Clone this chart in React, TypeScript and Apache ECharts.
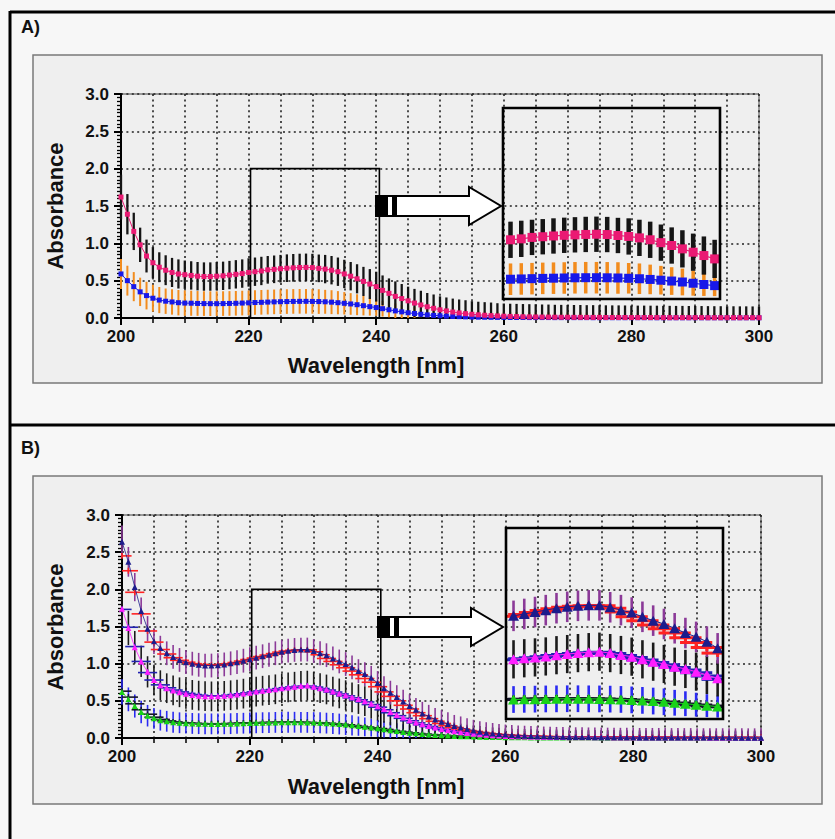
import React, { useEffect, useRef } from "react";
import * as echarts from "echarts";

// ---------- data ----------
const WAVELENGTHS = [
  200, 201, 202, 203, 204, 205, 206, 207, 208, 209,
  210, 211, 212, 213, 214, 215, 216, 217, 218, 219,
  220, 221, 222, 223, 224, 225, 226, 227, 228, 229,
  230, 231, 232, 233, 234, 235, 236, 237, 238, 239,
  240, 241, 242, 243, 244, 245, 246, 247, 248, 249,
  250, 251, 252, 253, 254, 255, 256, 257, 258, 259,
  260, 261, 262, 263, 264, 265, 266, 267, 268, 269,
  270, 271, 272, 273, 274, 275, 276, 277, 278, 279,
  280, 281, 282, 283, 284, 285, 286, 287, 288, 289,
  290, 291, 292, 293, 294, 295, 296, 297, 298, 299, 300,
];

// Panel A – pink squares (black error bars)
const A_PINK = [
  1.62, 1.39, 1.16, 0.98, 0.83, 0.74, 0.68, 0.64, 0.61, 0.59,
  0.58, 0.57, 0.56, 0.555, 0.555, 0.56, 0.565, 0.575, 0.585, 0.595,
  0.61, 0.62, 0.63, 0.645, 0.652, 0.66, 0.667, 0.672, 0.676, 0.678,
  0.675, 0.665, 0.655, 0.64, 0.62, 0.59, 0.56, 0.525, 0.49, 0.455,
  0.42, 0.37, 0.33, 0.29, 0.26, 0.23, 0.2, 0.175, 0.15, 0.13,
  0.11, 0.095, 0.08, 0.068, 0.058, 0.05, 0.043, 0.037, 0.032, 0.028,
  0.024, 0.021, 0.019, 0.017, 0.015, 0.014, 0.013, 0.012, 0.011, 0.01,
  0.01, 0.009, 0.009, 0.008, 0.008, 0.008, 0.007, 0.007, 0.007, 0.007,
  0.006, 0.006, 0.006, 0.006, 0.006, 0.005, 0.005, 0.005, 0.005, 0.005,
  0.005, 0.005, 0.004, 0.004, 0.004, 0.004, 0.004, 0.004, 0.004, 0.004, 0.004,
];
const A_PINK_ERR = [
  0.3, 0.27, 0.25, 0.23, 0.22, 0.21, 0.2, 0.2, 0.195, 0.195,
  0.19, 0.19, 0.19, 0.19, 0.19, 0.19, 0.19, 0.19, 0.19, 0.19,
  0.19, 0.19, 0.19, 0.185, 0.185, 0.185, 0.185, 0.185, 0.185, 0.185,
  0.185, 0.185, 0.19, 0.19, 0.19, 0.19, 0.19, 0.195, 0.195, 0.2,
  0.2, 0.2, 0.2, 0.2, 0.195, 0.19, 0.19, 0.19, 0.185, 0.185,
  0.18, 0.18, 0.18, 0.18, 0.18, 0.175, 0.175, 0.175, 0.175, 0.17,
  0.17, 0.17, 0.17, 0.17, 0.17, 0.17, 0.168, 0.168, 0.166, 0.166,
  0.165, 0.165, 0.165, 0.164, 0.164, 0.163, 0.163, 0.162, 0.162, 0.161,
  0.16, 0.16, 0.16, 0.159, 0.159, 0.158, 0.158, 0.157, 0.157, 0.156,
  0.156, 0.155, 0.155, 0.154, 0.154, 0.153, 0.153, 0.152, 0.152, 0.151, 0.15,
];
// Panel A – blue squares (orange error bars)
const A_BLUE = [
  0.59, 0.5, 0.42, 0.35, 0.3, 0.265, 0.24, 0.225, 0.215, 0.205,
  0.2, 0.198, 0.195, 0.193, 0.192, 0.192, 0.193, 0.195, 0.197, 0.2,
  0.203, 0.207, 0.21, 0.213, 0.216, 0.218, 0.22, 0.222, 0.223, 0.223,
  0.222, 0.22, 0.217, 0.212, 0.205, 0.197, 0.188, 0.178, 0.165, 0.152,
  0.14, 0.125, 0.11, 0.095, 0.082, 0.07, 0.06, 0.05, 0.042, 0.035,
  0.03, 0.025, 0.021, 0.018, 0.015, 0.013, 0.011, 0.01, 0.009, 0.008,
  0.008, 0.007, 0.007, 0.007, 0.006, 0.006, 0.006, 0.006, 0.005, 0.005,
  0.005, 0.005, 0.005, 0.005, 0.004, 0.004, 0.004, 0.004, 0.004, 0.004,
  0.004, 0.004, 0.004, 0.004, 0.003, 0.003, 0.003, 0.003, 0.003, 0.003,
  0.003, 0.003, 0.003, 0.003, 0.003, 0.003, 0.003, 0.003, 0.003, 0.003, 0.003,
];
const A_BLUE_ERR = [
  0.2, 0.2, 0.195, 0.19, 0.185, 0.18, 0.175, 0.17, 0.17, 0.17,
  0.17, 0.168, 0.166, 0.165, 0.165, 0.165, 0.165, 0.165, 0.165, 0.165,
  0.165, 0.165, 0.165, 0.165, 0.165, 0.165, 0.165, 0.165, 0.165, 0.165,
  0.165, 0.165, 0.16, 0.16, 0.155, 0.15, 0.145, 0.14, 0.13, 0.12,
  0.11, 0.105, 0.1, 0.1, 0.095, 0.095, 0.09, 0.09, 0.09, 0.085,
  0.085, 0.085, 0.08, 0.08, 0.08, 0.08, 0.078, 0.078, 0.076, 0.076,
  0.075, 0.075, 0.074, 0.074, 0.073, 0.073, 0.072, 0.072, 0.071, 0.071,
  0.07, 0.07, 0.07, 0.069, 0.069, 0.068, 0.068, 0.067, 0.067, 0.066,
  0.066, 0.066, 0.065, 0.065, 0.064, 0.064, 0.064, 0.063, 0.063, 0.062,
  0.062, 0.062, 0.061, 0.061, 0.061, 0.06, 0.06, 0.06, 0.06, 0.06, 0.06,
];

// Panel B – navy triangles (purple error bars)
const B_NAVY = [
  2.64, 2.37, 2.03, 1.71, 1.47, 1.3, 1.21, 1.14, 1.09, 1.05,
  1.02, 1.0, 0.985, 0.975, 0.975, 0.98, 0.99, 1.005, 1.02, 1.04,
  1.06, 1.08, 1.1, 1.12, 1.14, 1.16, 1.175, 1.185, 1.19, 1.19,
  1.17, 1.14, 1.114, 1.07, 1.03, 0.995, 0.95, 0.9, 0.86, 0.81,
  0.74, 0.67, 0.61, 0.55, 0.49, 0.43, 0.38, 0.33, 0.29, 0.25,
  0.22, 0.19, 0.16, 0.14, 0.12, 0.1, 0.085, 0.072, 0.062, 0.053,
  0.046, 0.04, 0.035, 0.031, 0.028, 0.025, 0.022, 0.02, 0.018, 0.016,
  0.015, 0.014, 0.013, 0.012, 0.011, 0.011, 0.01, 0.01, 0.009, 0.009,
  0.009, 0.008, 0.008, 0.008, 0.008, 0.007, 0.007, 0.007, 0.007, 0.007,
  0.006, 0.006, 0.006, 0.006, 0.006, 0.006, 0.005, 0.005, 0.005, 0.005, 0.005,
];
const B_NAVY_ERR = [
  0.22, 0.2, 0.19, 0.18, 0.17, 0.17, 0.165, 0.16, 0.16, 0.16,
  0.16, 0.16, 0.16, 0.16, 0.16, 0.16, 0.16, 0.16, 0.16, 0.16,
  0.16, 0.16, 0.16, 0.16, 0.16, 0.16, 0.16, 0.16, 0.16, 0.16,
  0.16, 0.16, 0.16, 0.16, 0.16, 0.16, 0.16, 0.16, 0.16, 0.16,
  0.16, 0.16, 0.16, 0.16, 0.16, 0.158, 0.158, 0.156, 0.156, 0.155,
  0.155, 0.155, 0.15, 0.15, 0.145, 0.145, 0.14, 0.14, 0.14, 0.135,
  0.135, 0.135, 0.134, 0.134, 0.133, 0.133, 0.132, 0.132, 0.131, 0.131,
  0.13, 0.13, 0.13, 0.13, 0.129, 0.129, 0.129, 0.128, 0.128, 0.128,
  0.128, 0.127, 0.127, 0.127, 0.127, 0.126, 0.126, 0.126, 0.126, 0.126,
  0.125, 0.125, 0.125, 0.125, 0.125, 0.125, 0.125, 0.125, 0.125, 0.125, 0.125,
];
// Panel B – magenta triangles (black error bars)
const B_MAGENTA = [
  1.74, 1.48, 1.22, 1.03, 0.89, 0.78, 0.71, 0.67, 0.64, 0.615,
  0.595, 0.58, 0.57, 0.563, 0.56, 0.562, 0.567, 0.575, 0.585, 0.597,
  0.61, 0.625, 0.636, 0.645, 0.655, 0.668, 0.68, 0.69, 0.7, 0.705,
  0.69, 0.67, 0.653, 0.625, 0.6, 0.576, 0.548, 0.524, 0.496, 0.461,
  0.426, 0.39, 0.35, 0.31, 0.275, 0.24, 0.21, 0.185, 0.16, 0.14,
  0.12, 0.105, 0.09, 0.078, 0.067, 0.058, 0.05, 0.043, 0.037, 0.032,
  0.028, 0.025, 0.022, 0.02, 0.018, 0.016, 0.015, 0.014, 0.013, 0.012,
  0.011, 0.011, 0.01, 0.01, 0.009, 0.009, 0.009, 0.008, 0.008, 0.008,
  0.008, 0.007, 0.007, 0.007, 0.007, 0.007, 0.006, 0.006, 0.006, 0.006,
  0.006, 0.006, 0.005, 0.005, 0.005, 0.005, 0.005, 0.005, 0.005, 0.005, 0.005,
];
const B_MAGENTA_ERR = [
  0.25, 0.23, 0.22, 0.21, 0.21, 0.205, 0.2, 0.2, 0.2, 0.2,
  0.2, 0.2, 0.2, 0.2, 0.2, 0.2, 0.2, 0.2, 0.2, 0.2,
  0.2, 0.2, 0.2, 0.2, 0.2, 0.2, 0.2, 0.2, 0.2, 0.2,
  0.2, 0.2, 0.2, 0.2, 0.2, 0.2, 0.2, 0.2, 0.2, 0.2,
  0.19, 0.185, 0.18, 0.175, 0.17, 0.16, 0.155, 0.15, 0.14, 0.135,
  0.13, 0.125, 0.12, 0.115, 0.11, 0.11, 0.11, 0.105, 0.105, 0.105,
  0.1, 0.1, 0.1, 0.1, 0.1, 0.1, 0.1, 0.1, 0.1, 0.1,
  0.1, 0.1, 0.099, 0.099, 0.099, 0.098, 0.098, 0.098, 0.098, 0.097,
  0.097, 0.097, 0.097, 0.096, 0.096, 0.096, 0.096, 0.096, 0.095, 0.095,
  0.095, 0.095, 0.095, 0.095, 0.095, 0.095, 0.095, 0.095, 0.095, 0.095, 0.095,
];
// Panel B – green triangles (blue error bars)
const B_GREEN = [
  0.62, 0.52, 0.43, 0.35, 0.3, 0.265, 0.24, 0.225, 0.212, 0.205,
  0.2, 0.196, 0.193, 0.191, 0.19, 0.19, 0.191, 0.193, 0.196, 0.199,
  0.202, 0.204, 0.206, 0.208, 0.21, 0.211, 0.212, 0.212, 0.211, 0.21,
  0.208, 0.205, 0.2, 0.195, 0.188, 0.18, 0.17, 0.16, 0.15, 0.14,
  0.13, 0.118, 0.105, 0.093, 0.082, 0.072, 0.063, 0.055, 0.048, 0.042,
  0.037, 0.032, 0.028, 0.025, 0.022, 0.019, 0.017, 0.015, 0.013, 0.012,
  0.011, 0.01, 0.009, 0.009, 0.008, 0.008, 0.007, 0.007, 0.007, 0.006,
  0.006, 0.006, 0.006, 0.006, 0.006, 0.005, 0.005, 0.005, 0.005, 0.005,
  0.005, 0.005, 0.005, 0.005, 0.005, 0.004, 0.004, 0.004, 0.004, 0.004,
  0.004, 0.004, 0.004, 0.004, 0.004, 0.004, 0.004, 0.004, 0.004, 0.004, 0.004,
];
const B_GREEN_ERR = [
  0.17, 0.16, 0.155, 0.15, 0.145, 0.14, 0.14, 0.14, 0.14, 0.14,
  0.14, 0.14, 0.14, 0.14, 0.14, 0.14, 0.14, 0.14, 0.14, 0.14,
  0.14, 0.14, 0.14, 0.14, 0.14, 0.14, 0.14, 0.14, 0.14, 0.14,
  0.14, 0.14, 0.14, 0.14, 0.14, 0.14, 0.135, 0.13, 0.125, 0.12,
  0.115, 0.11, 0.108, 0.105, 0.102, 0.1, 0.098, 0.096, 0.094, 0.092,
  0.09, 0.09, 0.09, 0.089, 0.089, 0.088, 0.088, 0.088, 0.087, 0.087,
  0.087, 0.086, 0.086, 0.086, 0.085, 0.085, 0.085, 0.085, 0.084, 0.084,
  0.084, 0.084, 0.083, 0.083, 0.083, 0.083, 0.082, 0.082, 0.082, 0.082,
  0.082, 0.081, 0.081, 0.081, 0.081, 0.081, 0.08, 0.08, 0.08, 0.08,
  0.08, 0.08, 0.08, 0.08, 0.08, 0.08, 0.08, 0.08, 0.08, 0.08, 0.08,
];
// Panel B – cross markers with horizontal error bars
const B_RED_CROSS = [
  2.45, 2.25, 1.96, 1.67, 1.44, 1.29, 1.19, 1.13, 1.08, 1.045,
  1.02, 1.0, 0.99, 0.98, 0.977, 0.98, 0.99, 1.0, 1.015, 1.035,
  1.055, 1.075, 1.095, 1.115, 1.135, 1.155, 1.17, 1.18, 1.185, 1.185,
  1.16, 1.12, 1.07, 1.03, 0.985, 0.945, 0.9, 0.85, 0.8, 0.75,
  0.69, 0.62, 0.56, 0.5, 0.44, 0.39, 0.34, 0.3, 0.26, 0.225,
  0.195, 0.165, 0.14, 0.12, 0.1, 0.088, 0.075, 0.064, 0.055, 0.047,
  0.041, 0.036, 0.032, 0.029, 0.026, 0.023, 0.021, 0.019, 0.017, 0.016,
  0.015, 0.014, 0.013, 0.012, 0.011, 0.011, 0.01, 0.01, 0.009, 0.009,
  0.009, 0.008, 0.008, 0.008, 0.008, 0.007, 0.007, 0.007, 0.007, 0.007,
  0.006, 0.006, 0.006, 0.006, 0.006, 0.006, 0.006, 0.006, 0.006, 0.006, 0.006,
];
const B_BLUE_CROSS = [
  1.73, 1.49, 1.23, 1.03, 0.88, 0.78, 0.715, 0.675, 0.645, 0.62,
  0.6, 0.585, 0.575, 0.567, 0.563, 0.564, 0.568, 0.575, 0.584, 0.595,
  0.607, 0.62, 0.632, 0.642, 0.652, 0.664, 0.676, 0.686, 0.695, 0.698,
  0.685, 0.665, 0.645, 0.618, 0.592, 0.567, 0.54, 0.514, 0.485, 0.45,
  0.415, 0.38, 0.34, 0.3, 0.265, 0.232, 0.203, 0.178, 0.155, 0.135,
  0.117, 0.1, 0.087, 0.075, 0.064, 0.055, 0.048, 0.041, 0.036, 0.031,
  0.027, 0.024, 0.021, 0.019, 0.017, 0.016, 0.014, 0.013, 0.012, 0.011,
  0.011, 0.01, 0.01, 0.009, 0.009, 0.009, 0.008, 0.008, 0.008, 0.008,
  0.007, 0.007, 0.007, 0.007, 0.007, 0.006, 0.006, 0.006, 0.006, 0.006,
  0.006, 0.005, 0.005, 0.005, 0.005, 0.005, 0.005, 0.005, 0.005, 0.005, 0.005,
];
const B_BLACK_CROSS = [
  0.63, 0.55, 0.46, 0.38, 0.32, 0.28, 0.25, 0.23, 0.216, 0.207,
  0.201, 0.197, 0.194, 0.192, 0.191, 0.191, 0.192, 0.194, 0.197, 0.2,
  0.203, 0.205, 0.207, 0.209, 0.21, 0.211, 0.212, 0.212, 0.211, 0.209,
  0.206, 0.203, 0.198, 0.192, 0.185, 0.177, 0.167, 0.157, 0.147, 0.137,
  0.127, 0.115, 0.102, 0.09, 0.079, 0.069, 0.06, 0.052, 0.046, 0.04,
  0.035, 0.031, 0.027, 0.024, 0.021, 0.018, 0.016, 0.014, 0.013, 0.012,
  0.011, 0.01, 0.009, 0.008, 0.008, 0.007, 0.007, 0.007, 0.006, 0.006,
  0.006, 0.006, 0.005, 0.005, 0.005, 0.005, 0.005, 0.005, 0.005, 0.005,
  0.005, 0.004, 0.004, 0.004, 0.004, 0.004, 0.004, 0.004, 0.004, 0.004,
  0.004, 0.004, 0.004, 0.004, 0.004, 0.004, 0.004, 0.004, 0.004, 0.004, 0.004,
];
const CROSS_X_ERR = 1.5; // nm, half width of horizontal error bars
const CROSS_Y_ERR = 0.04;

// zoom window shown in the insets
const ZOOM_X = [220.3, 240.5];
const ZOOM_Y = [0, 2];
const X_TICKS_LABELS = [200, 220, 240, 260, 280, 300];

// ---------- helpers ----------
const FONT = "'Liberation Sans', Arial, sans-serif";

const pts = (vals: number[], errs?: number[]) =>
  WAVELENGTHS.map((w, i) => (errs ? [w, vals[i], errs[i]] : [w, vals[i]]));
const inZoom = (arr: any[]) => arr.filter((p) => p[0] >= 221 && p[0] <= 240);

function vErr(gi: number, data: any[], color: string, width: number, yMax: number) {
  return {
    type: "custom",
    xAxisIndex: gi,
    yAxisIndex: gi,
    data,
    z: 2,
    silent: true,
    encode: { x: 0, y: 1 },
    renderItem: (_p: any, api: any) => {
      const x = api.value(0);
      const v = api.value(1);
      const e = api.value(2);
      const lo = Math.max(0, v - e);
      const hi = Math.min(yMax, v + e);
      const a = api.coord([x, lo]);
      const b = api.coord([x, hi]);
      return {
        type: "line",
        shape: { x1: a[0], y1: a[1], x2: b[0], y2: b[1] },
        style: { stroke: color, lineWidth: width },
      };
    },
  };
}

function hCross(gi: number, data: any[], color: string, width: number, xMin: number, xMax: number, yMax: number) {
  return {
    type: "custom",
    xAxisIndex: gi,
    yAxisIndex: gi,
    data,
    z: 3,
    silent: true,
    encode: { x: 0, y: 1 },
    renderItem: (_p: any, api: any) => {
      const x = api.value(0);
      const v = api.value(1);
      const l = api.coord([Math.max(xMin, x - CROSS_X_ERR), v]);
      const r = api.coord([Math.min(xMax, x + CROSS_X_ERR), v]);
      const t = api.coord([x, Math.min(yMax, v + CROSS_Y_ERR)]);
      const b = api.coord([x, Math.max(0, v - CROSS_Y_ERR)]);
      return {
        type: "group",
        children: [
          { type: "line", shape: { x1: l[0], y1: l[1], x2: r[0], y2: r[1] }, style: { stroke: color, lineWidth: width } },
          { type: "line", shape: { x1: t[0], y1: t[1], x2: b[0], y2: b[1] }, style: { stroke: color, lineWidth: width } },
        ],
      };
    },
  };
}

function markers(gi: number, data: any[], color: string, symbol: string, size: any, lineW: number, extra: any = {}) {
  return {
    type: "line",
    xAxisIndex: gi,
    yAxisIndex: gi,
    data,
    symbol,
    symbolSize: size,
    showAllSymbol: true,
    clip: true,
    silent: true,
    z: 4,
    itemStyle: { color, borderWidth: 0 },
    lineStyle: { color, width: lineW },
    ...extra,
  };
}

const dotted = { color: "#222", width: 1.6, type: [2, 3.4] };

function mainAxes(gi: number) {
  const x = {
    gridIndex: gi,
    type: "value",
    min: 200,
    max: 300,
    interval: 20,
    axisLine: { show: true, onZero: false, lineStyle: { color: "#000", width: 2 } },
    axisTick: { show: true, length: 7, lineStyle: { color: "#000", width: 2 } },
    minorTick: { show: true, splitNumber: 4, length: 5, lineStyle: { color: "#000", width: 1.5 } },
    splitLine: { show: true, lineStyle: dotted },
    minorSplitLine: { show: true, lineStyle: dotted },
    axisLabel: {
      fontSize: 17,
      fontWeight: "bold",
      color: "#111",
      fontFamily: FONT,
      margin: 10,
      formatter: (v: number) => (X_TICKS_LABELS.indexOf(v) >= 0 ? String(v) : ""),
    },
  };
  const y = {
    gridIndex: gi,
    type: "value",
    min: 0,
    max: 3,
    interval: 0.5,
    axisLine: { show: true, onZero: false, lineStyle: { color: "#000", width: 2 } },
    axisTick: { show: true, length: 7, lineStyle: { color: "#000", width: 2 } },
    minorTick: { show: true, splitNumber: 10, length: 4, lineStyle: { color: "#000", width: 1.3 } },
    splitLine: { show: true, lineStyle: dotted },
    axisLabel: {
      fontSize: 17,
      fontWeight: "bold",
      color: "#111",
      fontFamily: FONT,
      margin: 12,
      formatter: (v: number) => v.toFixed(1),
    },
  };
  return { x, y };
}

function insetAxes(gi: number) {
  return {
    x: { gridIndex: gi, type: "value", min: ZOOM_X[0], max: ZOOM_X[1], show: false, splitLine: { show: false } },
    y: { gridIndex: gi, type: "value", min: ZOOM_Y[0], max: ZOOM_Y[1], show: false, splitLine: { show: false } },
  };
}

function arrow(x0: number, cy: number, tip: number) {
  const headBase = tip - 32;
  return [
    {
      type: "polygon",
      z: 100,
      shape: {
        points: [
          [x0, cy - 10],
          [headBase, cy - 10],
          [headBase, cy - 19],
          [tip, cy],
          [headBase, cy + 19],
          [headBase, cy + 10],
          [x0, cy + 10],
        ],
      },
      style: { fill: "#fff", stroke: "#000", lineWidth: 2 },
    },
    { type: "rect", z: 101, shape: { x: x0, y: cy - 10, width: 12, height: 20 }, style: { fill: "#000" } },
    { type: "rect", z: 101, shape: { x: x0 + 16, y: cy - 10, width: 5, height: 20 }, style: { fill: "#000" } },
  ];
}

function panelGraphics(dy: number, label: string) {
  return [
    { type: "rect", z: -20, shape: { x: 33, y: 55 + dy, width: 789, height: 328 }, style: { fill: "#efefef", stroke: "#7a7a7a", lineWidth: 1.5 } },
    { type: "text", z: 100, x: 21, y: 18 + dy, style: { text: label, fontSize: 18, fontWeight: "bold", fontFamily: FONT, fill: "#111" } },
    {
      type: "text",
      z: 100,
      x: 55,
      y: 206 + dy,
      rotation: Math.PI / 2,
      style: { text: "Absorbance", fontSize: 22, fontWeight: "bold", fontFamily: FONT, fill: "#111", align: "center", verticalAlign: "middle" },
    },
    {
      type: "text",
      z: 100,
      x: 376,
      y: 365 + dy,
      style: { text: "Wavelength [nm]", fontSize: 22, fontWeight: "bold", fontFamily: FONT, fill: "#111", align: "center", verticalAlign: "middle" },
    },
  ];
}

export default function App() {
  const ref = useRef<HTMLDivElement>(null);

  useEffect(() => {
    if (!ref.current) return;
    const chart = echarts.init(ref.current, undefined, { renderer: "svg" });

    const aM = mainAxes(0);
    const aI = insetAxes(1);
    const bM = mainAxes(2);
    const bI = insetAxes(3);

    const zoomRect = {
      silent: true,
      itemStyle: { color: "rgba(0,0,0,0)", borderColor: "#000", borderWidth: 1.6 },
      data: [[{ coord: [ZOOM_X[0], ZOOM_Y[0]] }, { coord: [ZOOM_X[1], ZOOM_Y[1]] }]],
    };

    const series: any[] = [
      // ---- Panel A main ----
      vErr(0, pts(A_BLUE, A_BLUE_ERR), "#f28c1e", 2, 3),
      vErr(0, pts(A_PINK, A_PINK_ERR), "#151515", 2.3, 3),
      markers(0, pts(A_BLUE), "#1818e8", "rect", 5, 1),
      markers(0, pts(A_PINK), "#ea1a73", "rect", 5, 1, { markArea: zoomRect }),
      // ---- Panel A inset ----
      vErr(1, inZoom(pts(A_BLUE, A_BLUE_ERR)), "#f28c1e", 3.5, 2),
      vErr(1, inZoom(pts(A_PINK, A_PINK_ERR)), "#151515", 4.5, 2),
      markers(1, inZoom(pts(A_BLUE)), "#1818e8", "rect", 9, 1.2),
      markers(1, inZoom(pts(A_PINK)), "#ea1a73", "rect", 9, 1.2),
      // ---- Panel B main ----
      vErr(2, pts(B_GREEN, B_GREEN_ERR), "#2a2af2", 1.6, 3),
      vErr(2, pts(B_MAGENTA, B_MAGENTA_ERR), "#1a1a1a", 1.6, 3),
      vErr(2, pts(B_NAVY, B_NAVY_ERR), "#8b3a98", 1.6, 3),
      hCross(2, pts(B_BLACK_CROSS), "#14142a", 1.6, 200, 300, 3),
      hCross(2, pts(B_BLUE_CROSS), "#2222b0", 1.6, 200, 300, 3),
      hCross(2, pts(B_RED_CROSS), "#ff2222", 1.6, 200, 300, 3),
      markers(2, pts(B_GREEN), "#19d219", "triangle", [6, 6], 0.8),
      markers(2, pts(B_MAGENTA), "#ff1eff", "triangle", [6, 6], 0.8),
      markers(2, pts(B_NAVY), "#1c1c8c", "triangle", [6, 6], 0.8, { markArea: zoomRect }),
      // ---- Panel B inset ----
      vErr(3, inZoom(pts(B_GREEN, B_GREEN_ERR)), "#2a2af2", 2.6, 2),
      vErr(3, inZoom(pts(B_MAGENTA, B_MAGENTA_ERR)), "#1a1a1a", 2.6, 2),
      vErr(3, inZoom(pts(B_NAVY, B_NAVY_ERR)), "#8b3a98", 2.6, 2),
      hCross(3, inZoom(pts(B_BLACK_CROSS)), "#14142a", 3, ZOOM_X[0], ZOOM_X[1], 2),
      hCross(3, inZoom(pts(B_BLUE_CROSS)), "#2222b0", 3, ZOOM_X[0], ZOOM_X[1], 2),
      hCross(3, inZoom(pts(B_RED_CROSS)), "#ff2222", 3, ZOOM_X[0], ZOOM_X[1], 2),
      markers(3, inZoom(pts(B_GREEN)), "#19d219", "triangle", [11, 10], 1),
      markers(3, inZoom(pts(B_MAGENTA)), "#ff1eff", "triangle", [11, 10], 1),
      markers(3, inZoom(pts(B_NAVY)), "#1c1c8c", "triangle", [11, 10], 1),
    ];

    const option: any = {
      animation: false,
      backgroundColor: "#f7f7f7",
      grid: [
        { left: 121, top: 94, width: 638, height: 224, show: true, borderColor: "#444", borderWidth: 1, backgroundColor: "transparent" },
        { left: 503, top: 108, width: 217, height: 191, show: true, borderColor: "#000", borderWidth: 2.6, backgroundColor: "transparent", z: 5 },
        { left: 122, top: 515, width: 639, height: 223, show: true, borderColor: "#444", borderWidth: 1, backgroundColor: "transparent" },
        { left: 506, top: 528, width: 217, height: 191, show: true, borderColor: "#000", borderWidth: 2.6, backgroundColor: "transparent", z: 5 },
      ],
      xAxis: [aM.x, aI.x, bM.x, bI.x],
      yAxis: [aM.y, aI.y, bM.y, bI.y],
      graphic: [
        ...panelGraphics(0, "A)"),
        ...panelGraphics(421, "B)"),
        { type: "line", z: 100, shape: { x1: 10, y1: 12, x2: 835, y2: 12 }, style: { stroke: "#000", lineWidth: 3 } },
        { type: "line", z: 100, shape: { x1: 10, y1: 425, x2: 835, y2: 425 }, style: { stroke: "#000", lineWidth: 3 } },
        { type: "line", z: 100, shape: { x1: 10, y1: 11, x2: 10, y2: 839 }, style: { stroke: "#000", lineWidth: 3 } },
        ...arrow(376, 206, 501),
        ...arrow(378, 627, 503),
      ],
      series,
    };

    chart.setOption(option);
    return () => chart.dispose();
  }, []);

  return <div ref={ref} style={{ position: "fixed", left: 0, top: 0, width: 835, height: 839 }} />;
}
